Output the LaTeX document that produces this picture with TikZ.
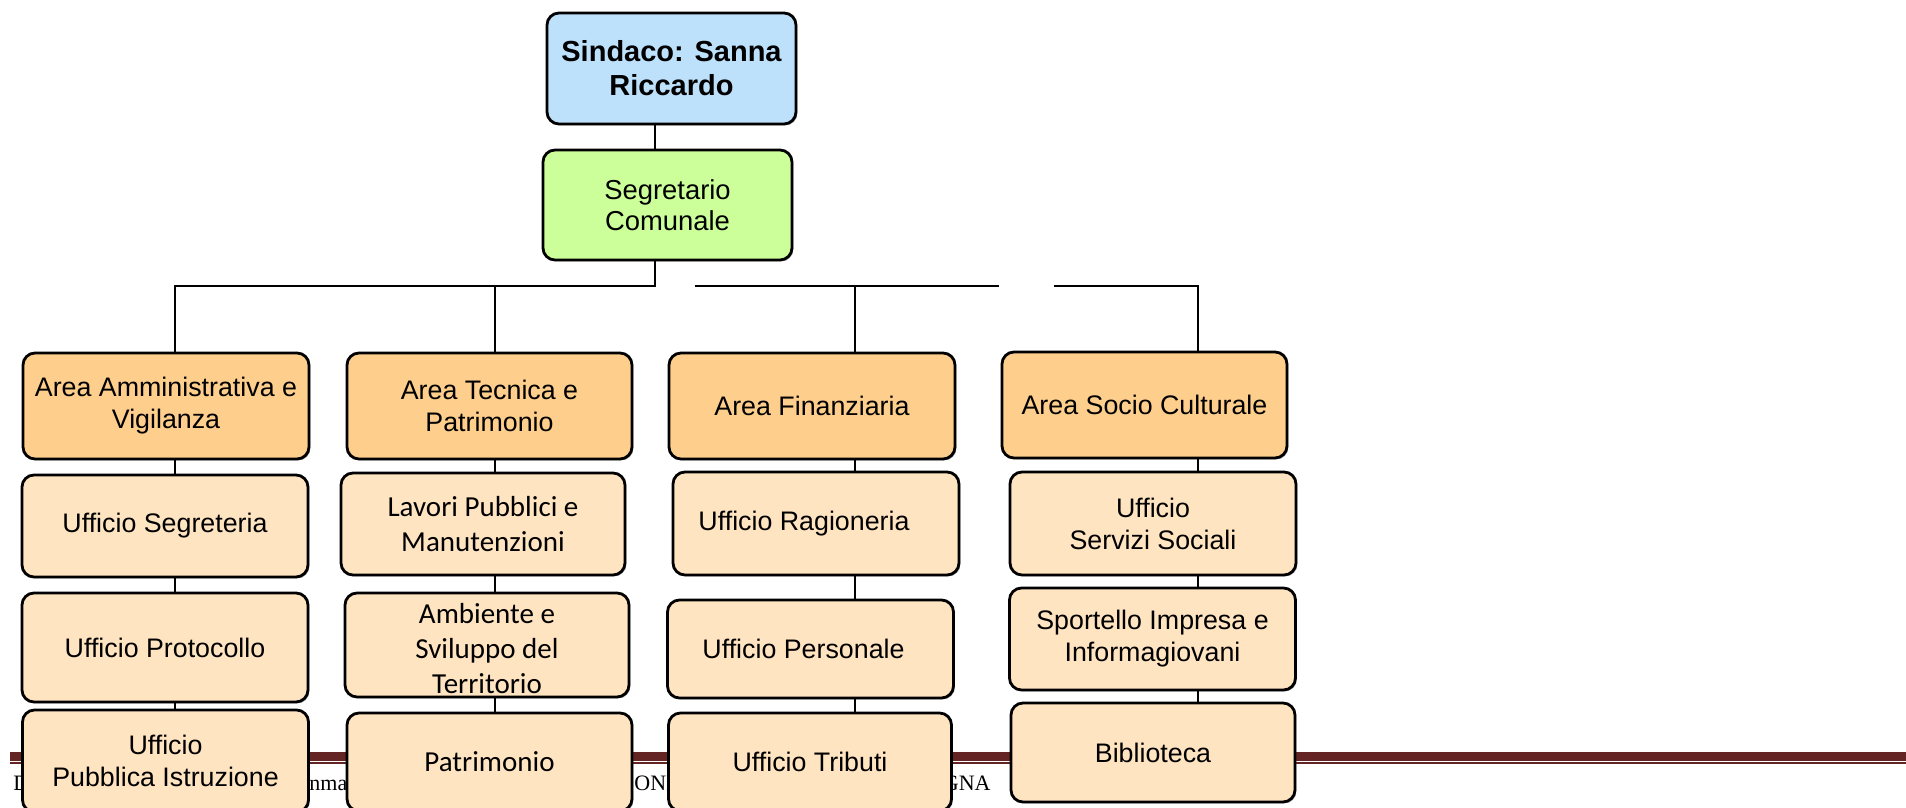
\documentclass[tikz,border=0pt]{standalone}
\usepackage{fontspec}
\newfontfamily\arial{Liberation Sans}
\newfontfamily\calibri{Carlito}
\newfontfamily\timesf{Liberation Serif}
\usetikzlibrary{shadows}
\definecolor{sindacoblue}{RGB}{189,224,251}
\definecolor{segrgreen}{RGB}{204,255,153}
\definecolor{areaorange}{RGB}{254,206,140}
\definecolor{ufficiocream}{RGB}{255,228,193}
\definecolor{footerred}{RGB}{99,36,35}
\tikzset{
  box/.style={draw, rounded corners=6pt, line width=1.4pt, align=center, inner sep=0pt,
    minimum width=143pt, minimum height=52pt,
    drop shadow={shadow xshift=0.7pt, shadow yshift=-0.7pt, opacity=0.5, fill=black!60},
    font=\arial\fontsize{13.4}{16}\selectfont},
  capo/.style={box, fill=sindacoblue, minimum width=124.5pt, minimum height=55.5pt,
    font=\arial\bfseries\fontsize{14.5}{17}\selectfont},
  segr/.style={box, fill=segrgreen, minimum width=124.5pt, minimum height=55pt,
    font=\arial\fontsize{13.7}{15.5}\selectfont},
  area/.style={box, fill=areaorange, minimum height=53pt},
  ufficio/.style={box, fill=ufficiocream},
  carl/.style={font=\calibri\fontsize{14.5}{17.5}\selectfont},
  foot/.style={inner sep=0pt, font=\timesf\fontsize{11}{13}\selectfont},
  link/.style={line width=1pt},
}
\begin{document}
\begin{tikzpicture}[x=0.5pt,y=-0.5pt]
\useasboundingbox (0,0) rectangle (1906,808);
% footer of the page behind the chart
\fill[footerred] (10,752) rectangle (1906,760.5);
\fill[footerred] (10,762) rectangle (1906,764);
\node[foot, anchor=base west] (fd) at (13,790) {D};
\node[foot, anchor=base west] (fnma) at (309,790) {nma};
\node[foot, anchor=base west] (foni) at (634,790) {ONI};
\node[foot, anchor=base east] (fgna) at (991,790) {GNA};
% top
\node[capo] (sindaco) at (671.5,68.5) {Sindaco: Sanna\\Riccardo};
\node[segr] (segr) at (667.5,205) {Segretario\\Comunale};
% areas
\node[area] (a1) at (166,406) {Area Amministrativa e\\Vigilanza};
\node[area, minimum width=142.5pt] (a2) at (489.5,406) {Area Tecnica e\\Patrimonio};
\node[area] (a3) at (812,406) {Area Finanziaria};
\node[area, minimum width=142.5pt] (a4) at (1144.5,405) {Area Socio Culturale};
% offices
\node[ufficio, minimum height=51pt] (u11) at (165,526) {Ufficio Segreteria};
\node[ufficio, minimum height=54.5pt] (u12) at (165,647.5) {Ufficio Protocollo};
\node[ufficio, minimum height=51pt] (u13) at (165.5,761) {Ufficio\\Pubblica Istruzione};
\node[ufficio, carl, minimum width=142pt, minimum height=51pt] (u21) at (483,524) {Lavori Pubblici e\\Manutenzioni};
\node[ufficio, carl, minimum width=142pt] (u22) at (487,645) {\\[-4pt]Ambiente e\\Sviluppo del\\Territorio};
\node[ufficio, carl, minimum width=142.5pt, minimum height=49pt] (u23) at (489.5,762) {Patrimonio};
\node[ufficio, minimum height=51.5pt] (u31) at (816,523.5) {Ufficio Ragioneria\hspace*{12pt}};
\node[ufficio, minimum height=49pt] (u32) at (810.5,649) {Ufficio Personale\hspace*{7pt}};
\node[ufficio, minimum width=141.5pt, minimum height=49pt] (u33) at (810,762) {Ufficio Tributi};
\node[ufficio, minimum height=51.5pt] (u41) at (1153,523.5) {Ufficio\\Servizi Sociali};
\node[ufficio, minimum height=51pt] (u42) at (1152.5,639) {Sportello Impresa e\\Informagiovani};
\node[ufficio, minimum width=142pt, minimum height=49.5pt] (u43) at (1153,752.5) {Biblioteca};
% bus
\coordinate (spine) at (655,286);
\coordinate (k1) at (175,286);
\coordinate (k2) at (495,286);
\coordinate (k3) at (855,286);
\coordinate (k4) at (1198,286);
\coordinate (gapa) at (695,286);
\coordinate (gapb) at (999,286);
\coordinate (gapc) at (1054,286);
\draw[link] (sindaco.south -| spine) -- (segr.north -| spine);
\draw[link] (segr.south -| spine) -- (spine) -- (k1) -- (a1.north -| k1);
\draw[link] (k2) -- (a2.north -| k2);
\draw[link] (gapa) -- (gapb);
\draw[link] (k3) -- (a3.north -| k3);
\draw[link] (gapc) -- (k4) -- (a4.north -| k4);
\foreach \k/\a/\b in {k1/a1/u11, k1/u11/u12, k1/u12/u13,
                      k2/a2/u21, k2/u21/u22, k2/u22/u23,
                      k3/a3/u31, k3/u31/u32, k3/u32/u33,
                      k4/a4/u41, k4/u41/u42, k4/u42/u43}
    \draw[link] (\a.south -| \k) -- (\b.north -| \k);
\end{tikzpicture}
\end{document}
